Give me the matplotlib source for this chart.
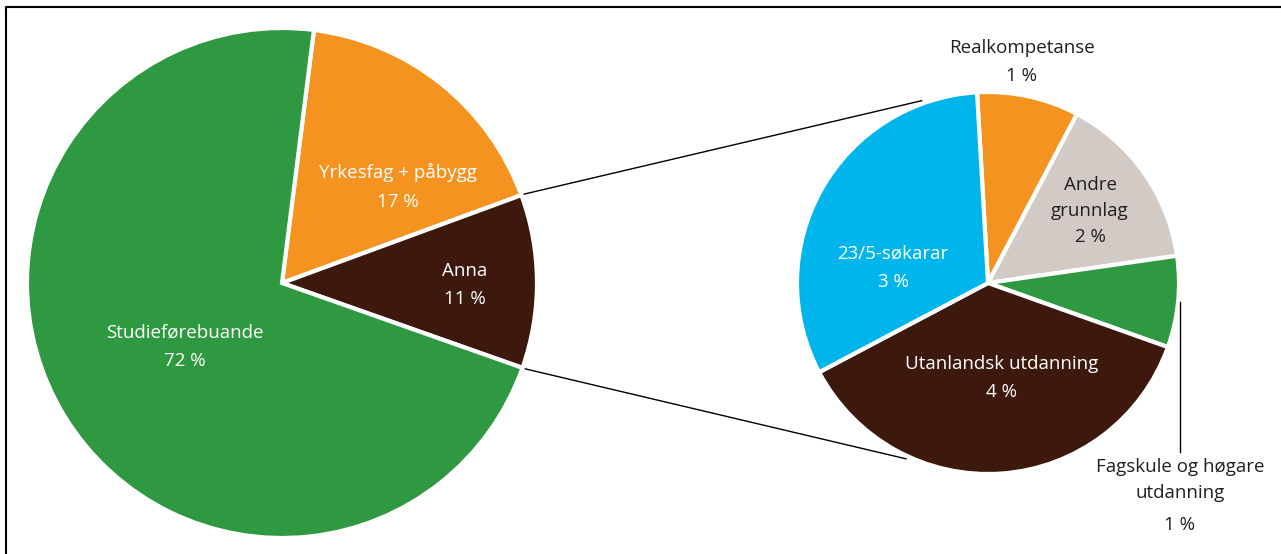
import numpy as np
import matplotlib
matplotlib.use("Agg")
import matplotlib.pyplot as plt

# Main pie: share of admitted by basis
main_labels = ["Yrkesfag + påbygg", "Anna", "Studieførebuande"]
main_pct = ["17 %", "11 %", "72 %"]
main_values = [17.4, 11, 71.6]
main_colors = ["#F59321", "#3D180C", "#2E9940"]

# Breakdown of "Anna" (labels are rounded)
sub_labels = ["Realkompetanse", "Andre\ngrunnlag", "Fagskule og høgare\nutdanning",
              "Utanlandsk utdanning", "23/5-søkarar"]
sub_pct = ["1 %", "2 %", "1 %", "4 %", "3 %"]
sub_values = [0.95, 1.65, 0.85, 4.05, 3.5]
sub_colors = ["#F59321", "#D2CAC5", "#2E9940", "#3D180C", "#00B5EC"]

plt.rcParams['font.family'] = ['Open Sans', 'DejaVu Sans']

W, H = 1281, 554
fig = plt.figure(figsize=(W / 100, H / 100), dpi=100)
ax = fig.add_axes([0, 0, 1, 1])

c1, r1 = (282, 271), 255
c2, r2 = (988, 271), 191
wp = dict(edgecolor='white', linewidth=3)

w1, _ = ax.pie(main_values, colors=main_colors, startangle=82.8, counterclock=False,
               center=c1, radius=r1, wedgeprops=wp, frame=True)
w2, _ = ax.pie(sub_values, colors=sub_colors, startangle=93.3, counterclock=False,
               center=c2, radius=r2, wedgeprops=wp, frame=True)
ax.set_xlim(0, W)
ax.set_ylim(0, H)
ax.set_aspect('equal')
ax.axis('off')

# connector lines from the "Anna" wedge to the breakdown pie
anna = w1[1]
for a1, a2 in [(anna.theta2, 110), (anna.theta1, -115)]:
    p1 = (c1[0] + (r1 + 3) * np.cos(np.radians(a1)), c1[1] + (r1 + 3) * np.sin(np.radians(a1)))
    p2 = (c2[0] + (r2 + 3) * np.cos(np.radians(a2)), c2[1] + (r2 + 3) * np.sin(np.radians(a2)))
    ax.plot([p1[0], p2[0]], [p1[1], p2[1]], color='black', lw=1)

fs = 13.5
dark = "#231F20"
# labels inside main pie
main_pos = [(398, 187), (465, 285), (185, 347)]
for lab, pct, (x, y) in zip(main_labels, main_pct, main_pos):
    ax.text(x, H - y, lab + "\n" + pct, ha='center', va='center', color='white',
            fontsize=fs, linespacing=1.75)

# labels for breakdown pie
sub_pos = [(1022, 62), (1090, 211), (1180, 480), (1002, 378), (893, 268)]
sub_col = [dark, dark, dark, 'white', 'white']
for i, (lab, pct, (x, y), col) in enumerate(zip(sub_labels, sub_pct, sub_pos, sub_col)):
    if i == 2:
        ax.text(x, H - y, lab, ha='center', va='center', color=col, fontsize=fs,
                linespacing=1.6)
        ax.text(x, H - 525, pct, ha='center', va='center', color=col, fontsize=fs)
    elif i == 1:
        ax.text(x, H - y, lab + "\n" + pct, ha='center', va='center', color=col,
                fontsize=fs, linespacing=1.6)
    else:
        ax.text(x, H - y, lab + "\n" + pct, ha='center', va='center', color=col,
                fontsize=fs, linespacing=1.75)

# leader line for the small green slice
ax.plot([1180, 1180], [H - 302, H - 452], color='black', lw=1)

# frame
ax.plot([6, 6, W + 5], [-5, H - 7, H - 7], color='black', lw=1.5)

fig.savefig("out.png", dpi=100)
